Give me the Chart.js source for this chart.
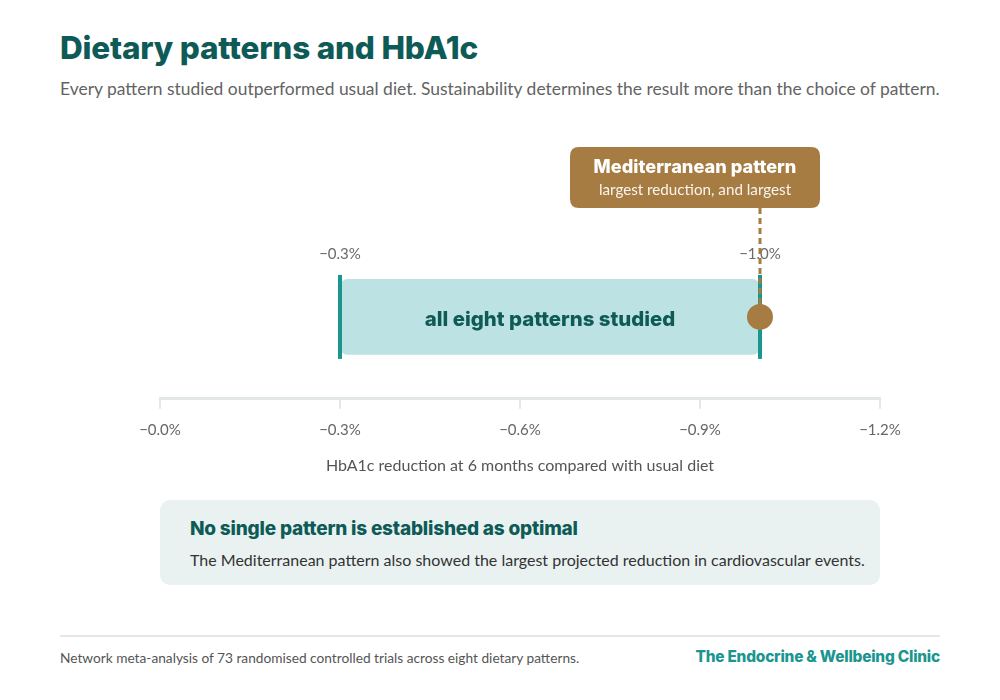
<!DOCTYPE html>
<html>
<head>
<meta charset="utf-8">
<script src="https://cdn.jsdelivr.net/npm/chart.js@4"></script>
<style>
  html, body { margin: 0; padding: 0; background: #ffffff; }
  body { width: 1000px; height: 700px; position: relative; overflow: hidden; font-family: Lato, sans-serif; }
  #title { position: absolute; left: 60px; top: 28px; font-family: Inter, sans-serif; font-weight: 800; font-size: 31.5px; color: #0e5a57; letter-spacing: -0.2px; margin: 0; }
  #subtitle { position: absolute; left: 60px; top: 78px; font-size: 17.45px; color: #636363; margin: 0; }
  #chartWrap { position: absolute; left: 0; top: 0; width: 1000px; height: 500px; }
  #note { position: absolute; left: 160px; top: 500px; width: 720px; height: 85px; background: #e9f2f1; border-radius: 10px; }
  #note h3 { position: absolute; left: 30px; top: 17px; margin: 0; font-family: Inter, sans-serif; font-weight: 800; font-size: 19px; color: #0e5a57; letter-spacing: -0.2px; }
  #note p { position: absolute; left: 30px; top: 50px; margin: 0; font-size: 16px; color: #333; }
  #rule { position: absolute; left: 60px; top: 635px; width: 880px; height: 2px; background: #e2e7e7; }
  #source { position: absolute; left: 60px; top: 649px; font-size: 13.7px; color: #555; }
  #brand { position: absolute; right: 60px; top: 647px; font-family: Inter, sans-serif; font-weight: 800; font-size: 15.4px; color: #1b9590; letter-spacing: -0.2px; }
</style>
</head>
<body>
<h1 id="title">Dietary patterns and HbA1c</h1>
<p id="subtitle">Every pattern studied outperformed usual diet. Sustainability determines the result more than the choice of pattern.</p>
<div id="chartWrap"><canvas id="c" width="1000" height="500"></canvas></div>
<div id="note">
  <h3>No single pattern is established as optimal</h3>
  <p>The Mediterranean pattern also showed the largest projected reduction in cardiovascular events.</p>
</div>
<div id="rule"></div>
<div id="source">Network meta-analysis of 73 randomised controlled trials across eight dietary patterns.</div>
<div id="brand">The Endocrine &amp; Wellbeing Clinic</div>
<script>
// ---- data ----
const categories = ['all eight patterns studied'];
const rangeStart = [-0.3];
const rangeEnd = [-1.0];
const highlightValue = [-1.0];
const highlightTitle = 'Mediterranean pattern';
const highlightSubtitle = 'largest reduction, and largest';
const axisMin = -1.2;
const axisMax = 0;
const axisStep = 0.3;
const axisTitle = 'HbA1c reduction at 6 months compared with usual diet';

const fmt = v => '\u2212' + Math.abs(v).toFixed(1) + '%';

const TEAL = '#1b9590';
const DARK = '#0e5a57';
const BROWN = '#a67c43';

function roundRect(ctx, x, y, w, h, r) {
  ctx.beginPath();
  ctx.moveTo(x + r, y);
  ctx.lineTo(x + w - r, y);
  ctx.quadraticCurveTo(x + w, y, x + w, y + r);
  ctx.lineTo(x + w, y + h - r);
  ctx.quadraticCurveTo(x + w, y + h, x + w - r, y + h);
  ctx.lineTo(x + r, y + h);
  ctx.quadraticCurveTo(x, y + h, x, y + h - r);
  ctx.lineTo(x, y + r);
  ctx.quadraticCurveTo(x, y, x + r, y);
  ctx.closePath();
}

const annot = {
  id: 'annot',
  afterDatasetDraw(chart, args) {
    if (args.index !== 0) return;
    const ctx = chart.ctx;
    const xs = chart.scales.x, ys = chart.scales.y;
    categories.forEach((cat, i) => {
      const yc = ys.getPixelForValue(i);
      const x1 = xs.getPixelForValue(rangeStart[i]);
      const x2 = xs.getPixelForValue(rangeEnd[i]);
      ctx.save();
      // end caps
      ctx.fillStyle = TEAL;
      ctx.fillRect(x1 - 2, yc - 42, 4, 84);
      ctx.fillRect(x2 - 2, yc - 42, 4, 84);
      // label in bar
      ctx.fillStyle = DARK;
      ctx.font = '800 20.4px Inter, sans-serif';
      ctx.textAlign = 'center';
      ctx.textBaseline = 'middle';
      ctx.fillText(cat, (x1 + x2) / 2, yc + 3);
      // value labels
      ctx.fillStyle = '#6a6a6a';
      ctx.font = '15px Lato, sans-serif';
      ctx.fillText(fmt(rangeStart[i]), x1, yc - 63);
      ctx.fillText(fmt(rangeEnd[i]), x2, yc - 63);
      // callout
      const hx = xs.getPixelForValue(highlightValue[i]);
      const bx = hx - 190, by = yc - 170, bw = 250, bh = 61;
      ctx.strokeStyle = BROWN;
      ctx.lineWidth = 3;
      ctx.setLineDash([6, 4]);
      ctx.beginPath();
      ctx.moveTo(hx, by + bh);
      ctx.lineTo(hx, yc);
      ctx.stroke();
      ctx.setLineDash([]);
      ctx.fillStyle = BROWN;
      roundRect(ctx, bx, by, bw, bh, 9);
      ctx.fill();
      ctx.fillStyle = '#ffffff';
      ctx.font = '800 18.2px Inter, sans-serif';
      ctx.fillText(highlightTitle, bx + bw / 2, by + 21);
      ctx.fillStyle = 'rgba(255,255,255,0.92)';
      ctx.font = '15.2px Lato, sans-serif';
      ctx.fillText(highlightSubtitle, bx + bw / 2, by + 43);
      ctx.restore();
    });
  }
};

new Chart(document.getElementById('c'), {
  type: 'bar',
  data: {
    labels: categories,
    datasets: [
      {
        type: 'bar',
        data: categories.map((c, i) => [rangeStart[i], rangeEnd[i]]),
        backgroundColor: '#bce2e3',
        borderRadius: 8,
        borderSkipped: false,
        barThickness: 75,
        order: 2
      },
      {
        type: 'line',
        data: categories.map((c, i) => ({ x: highlightValue[i], y: c })),
        showLine: false,
        pointRadius: 13,
        pointHoverRadius: 13,
        pointBackgroundColor: BROWN,
        pointBorderWidth: 0,
        order: 1
      }
    ]
  },
  options: {
    indexAxis: 'y',
    responsive: false,
    animation: false,
    events: [],
    layout: { padding: { left: 160, right: 120, top: 235, bottom: 25 } },
    plugins: { legend: { display: false }, tooltip: { enabled: false } },
    scales: {
      y: { display: false, offset: true },
      x: {
        type: 'linear',
        reverse: true,
        min: axisMin,
        max: axisMax,
        afterBuildTicks: (scale) => {
          const t = [];
          for (let k = 0; k <= Math.round((axisMax - axisMin) / axisStep); k++) t.push({ value: axisMax - k * axisStep });
          scale.ticks = t;
        },
        grid: { drawOnChartArea: false, drawTicks: true, tickLength: 10, color: '#e3e7e7', lineWidth: 2 },
        border: { display: true, color: '#e3e7e7', width: 3 },
        ticks: { padding: 12, color: '#666', font: { family: 'Lato', size: 15 }, callback: v => fmt(v), maxRotation: 0 },
        title: { display: true, text: axisTitle, color: '#555', font: { family: 'Lato', size: 16 }, padding: { top: 5, bottom: 0 } }
      }
    }
  },
  plugins: [annot]
});
</script>
</body>
</html>
